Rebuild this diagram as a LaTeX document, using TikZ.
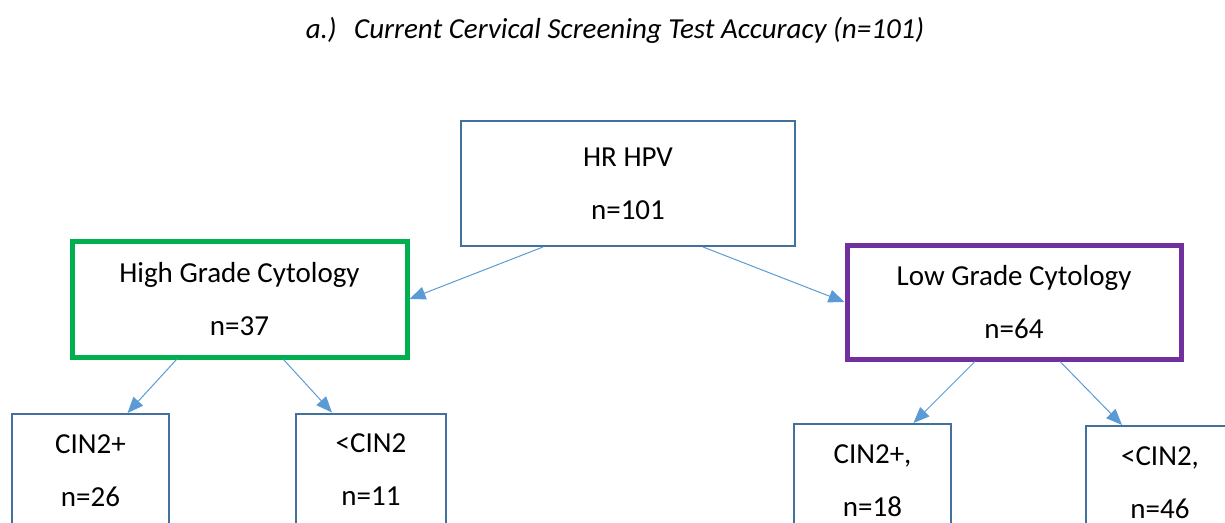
\documentclass[tikz,border=0pt]{standalone}
\usepackage{fontspec}
\setmainfont{Carlito}
\usepackage{xcolor}
\usepackage{tikz}
\usetikzlibrary{arrows.meta, calc}
\definecolor{boxBlue}{RGB}{65,113,156}
\definecolor{arrowBlue}{RGB}{91,155,213}
\definecolor{highGreen}{RGB}{0,176,80}
\definecolor{lowPurple}{RGB}{112,48,160}
\tikzset{
  resultbox/.style={draw=boxBlue, line width=2pt, fill=white, align=center,
    font=\fontsize{29}{53}\selectfont},
  gradebox/.style={resultbox, line width=5pt},
  flow/.style={arrowBlue, line width=1pt, -{Triangle[length=16pt, width=13pt]}}
}

\begin{document}
\begin{tikzpicture}[x=1pt, y=-1pt]
  \useasboundingbox (0,0) rectangle (1225,522);
  \clip (0,0) rectangle (1225,522);

  \node (title) at (615,30) {\fontsize{29}{34}\selectfont\itshape a.)\hspace{0.6em}Current Cervical Screening Test Accuracy (n=101)};

  \node [resultbox, minimum width=334pt, minimum height=125pt] (hpv) at (628,183.5) {HR HPV\\n=101};
  \node [gradebox, minimum width=335pt, minimum height=116pt, draw=highGreen] (high) at (239.5,299) {High Grade Cytology\\n=37};
  \node [gradebox, minimum width=334pt, minimum height=114pt, draw=lowPurple] (low) at (1014,302) {Low Grade Cytology\\n=64};

  \node [resultbox, minimum width=157pt, minimum height=114pt] (highCin) at (90.5,471) {CIN2+\\n=26};
  \node [resultbox, minimum width=150pt, minimum height=112pt] (highLow) at (371,469.5) {<CIN2\\n=11};
  \node [resultbox, minimum width=157pt, minimum height=114pt] (lowCin) at (872.5,481) {CIN2+,\\n=18};
  \node [resultbox, minimum width=148pt, minimum height=114pt] (lowLow) at (1160,483) {<CIN2,\\n=46};

  \draw [flow] ($(hpv.south)+(-85,0)$) -- (high.east);
  \draw [flow] ($(hpv.south)+(75,0)$) -- (low.west);
  \draw [flow] ($(high.south)+(-63,0)$) -- ($(highCin.north)+(37,0)$);
  \draw [flow] ($(high.south)+(44,0)$) -- ($(highLow.north)+(-39,0)$);
  \draw [flow] ($(low.south)+(-39,0)$) -- ($(lowCin.north)+(41,0)$);
  \draw [flow] ($(low.south)+(46,0)$) -- ($(lowLow.north)+(-38,0)$);
\end{tikzpicture}
\end{document}
